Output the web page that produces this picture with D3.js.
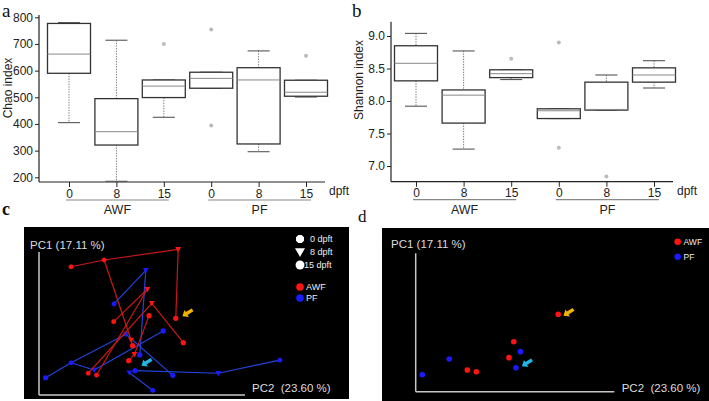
<!DOCTYPE html>
<html><head><meta charset="utf-8">
<script src="https://cdn.jsdelivr.net/npm/d3@7"></script>
<style>
body{margin:0;background:#fff}
svg{display:block;font-family:"Liberation Sans",Arial,sans-serif}
</style>
</head><body>
<svg id="chart" width="709" height="401"></svg>
<script>
// ---------- data ----------
const categories = ["AWF-0","AWF-8","AWF-15","PF-0","PF-8","PF-15"];
const dayLabels = ["0","8","15","0","8","15"];
const groupLabels = ["AWF","PF"];
const chaoTicks = [200,300,400,500,600,700,800];
const shannonTicks = [7.0,7.5,8.0,8.5,9.0];

const chaoMin = [405,185,425,534,296,501];
const chaoQ1  = [590,321,499,534,325,504];
const chaoMed = [662,371,542,571,565,519];
const chaoQ3  = [777,495,565,594,611,564];
const chaoMax = [780,714,565,594,674,564];
const chaoOut = [[],[],[700],[754,394],[],[656]];

const shanMin = [7.92,7.26,8.33,7.73,7.86,8.20];
const shanQ1  = [8.31,7.66,8.36,7.73,7.86,8.29];
const shanMed = [8.58,8.09,8.42,7.85,7.87,8.40];
const shanQ3  = [8.85,8.17,8.48,7.88,8.29,8.51];
const shanMax = [9.04,8.77,8.48,7.88,8.40,8.62];
const shanOut = [[],[],[8.65],[8.90,7.28],[6.84],[]];

// PCoA panel c: samples (PC2, PC1 scores, arbitrary units), day code 0/8/15
const awfIds  = ["A","B","C","D","E","F","G","H","I","J","K","L","M","N","O"];
const awfPC2  = [10.7,21.7,46.4,45.6,36.1,37.6,24.9,36.7,48.1,30.7,31.2,31.8,29.9,16.4,19.2];
const awfPC1  = [85.5,90.0,97.1,51.1,70.5,61.1,48.9,52.9,34.9,36.7,32.9,27.1,22.9,14.5,13.3];
const awfDay  = [0,0,8,15,8,8,0,15,15,8,15,8,15,0,0];
const awfLinks = [["A","B"],["B","C"],["C","D"],["B","J"],["J","K"],["G","E"],["E","O"],["F","N"],["F","I"],["H","L"],["L","M"]];

const pfIds  = ["P","Q","R","S","T","U","V","W","X","Y","Z","AA","AB","AC"];
const pfPC2  = [35.6,25.0,41.4,29.0,33.6,10.7,18.4,2.2,44.6,32.0,30.1,59.8,80.3,37.9];
const pfPC1  = [83.1,60.7,42.7,40.5,26.7,21.5,16.7,11.5,13.1,16.2,14.9,14.5,23.3,3.1];
const pfDay  = [8,0,15,8,15,0,8,15,15,15,8,8,0,0];
const pfLinks = [["P","Q"],["P","T"],["W","U"],["U","S"],["U","V"],["V","R"],["S","X"],["Y","AA"],["AA","AB"],["Z","AC"]];

// PCoA panel d
const dAwfPC2 = [47.5,32.7,31.1,17.2,20.2];
const dAwfPC1 = [51.6,33.3,22.7,14.5,13.3];
const dPfPC2  = [34.9,33.4,11.2,2.2];
const dPfPC1  = [26.7,16.0,21.8,11.3];

const legendDays = ["0 dpft","8 dpft","15 dpft"];
const pcLabel1 = "PC1 (17.11 %)";
const pcLabel2 = "PC2\u00a0\u00a0(23.60 %)";

// ---------- drawing ----------
const svg = d3.select("#chart");
svg.append("rect").attr("width",709).attr("height",401).attr("fill","#fff");

function boxPanel(opt){
  const g = svg.append("g");
  const y = d3.scaleLinear().domain(opt.domain).range(opt.yRange);
  const x = d3.scalePoint().domain(categories).range(opt.xRange);
  const bw = 43, cw = 22;
  g.append("line").attr("x1",opt.x0).attr("x2",opt.x0).attr("y1",opt.yTop).attr("y2",opt.yBase).attr("stroke","#222").attr("stroke-width",1.2);
  g.append("line").attr("x1",opt.x0).attr("x2",opt.xEnd).attr("y1",opt.yBase).attr("y2",opt.yBase).attr("stroke","#222").attr("stroke-width",1.2);
  const ya = g.append("g").attr("transform",`translate(${opt.x0},0)`)
    .call(d3.axisLeft(y).tickValues(opt.ticks).tickSize(4).tickPadding(2).tickFormat(opt.fmt));
  ya.select(".domain").remove();
  ya.selectAll("text").attr("font-size",12).attr("fill","#222").attr("font-family","Liberation Sans, Arial, sans-serif");
  ya.selectAll("line").attr("stroke","#222");
  const xa = g.append("g").attr("transform",`translate(0,${opt.yBase})`)
    .call(d3.axisBottom(x).tickSize(5).tickPadding(2).tickFormat((d,i)=>dayLabels[i]));
  xa.select(".domain").remove();
  xa.selectAll("text").attr("font-size",12).attr("fill","#222").attr("font-family","Liberation Sans, Arial, sans-serif");
  xa.selectAll("line").attr("stroke","#222");
  g.append("text").attr("x",opt.xEnd+4).attr("y",opt.yBase+13).attr("font-size",12).attr("fill","#222").text("dpft");
  g.append("text").attr("transform",`translate(${opt.labX},${opt.labY}) rotate(-90)`).attr("text-anchor","middle")
    .attr("font-size",12).attr("fill","#222").text(opt.label);
  groupLabels.forEach((gl,k)=>{
    const a = x(categories[k*3])-3, b = x(categories[k*3+2])+5;
    g.append("line").attr("x1",a).attr("x2",b).attr("y1",opt.yBase+18).attr("y2",opt.yBase+18).attr("stroke","#888").attr("stroke-width",1.2);
    g.append("text").attr("x",(a+b)/2).attr("y",opt.yBase+32).attr("text-anchor","middle").attr("font-size",12.5).attr("fill","#222").text(gl);
  });
  categories.forEach((c,i)=>{
    const cx = x(c);
    g.append("line").attr("x1",cx).attr("x2",cx).attr("y1",y(opt.max[i])).attr("y2",y(opt.q3[i])).attr("stroke","#777").attr("stroke-dasharray","1.3,1.3");
    g.append("line").attr("x1",cx).attr("x2",cx).attr("y1",y(opt.q1[i])).attr("y2",y(opt.min[i])).attr("stroke","#777").attr("stroke-dasharray","1.3,1.3");
    [opt.max[i],opt.min[i]].forEach(v=>{
      g.append("line").attr("x1",cx-cw/2).attr("x2",cx+cw/2).attr("y1",y(v)).attr("y2",y(v)).attr("stroke","#555").attr("stroke-width",1.1);
    });
    g.append("rect").attr("x",cx-bw/2).attr("y",y(opt.q3[i])).attr("width",bw).attr("height",Math.max(0.5,y(opt.q1[i])-y(opt.q3[i])))
      .attr("fill","#fff").attr("stroke","#333").attr("stroke-width",1.3);
    g.append("line").attr("x1",cx-bw/2).attr("x2",cx+bw/2).attr("y1",y(opt.med[i])).attr("y2",y(opt.med[i])).attr("stroke","#888").attr("stroke-width",1);
    opt.out[i].forEach(v=>{
      g.append("circle").attr("cx",cx).attr("cy",y(v)).attr("r",2).attr("fill","#bbb");
    });
  });
  svg.append("text").attr("x",opt.letX).attr("y",17).attr("font-family","Liberation Serif, Times New Roman, serif").attr("font-size",19).attr("fill","#111").text(opt.letter);
}

boxPanel({domain:[200,800], yRange:[177.3,17.3], xRange:[69,306], x0:39, xEnd:325, yTop:15, yBase:182,
  ticks:chaoTicks, fmt:d3.format("d"), label:"Chao index", labX:12, labY:88,
  min:chaoMin,q1:chaoQ1,med:chaoMed,q3:chaoQ3,max:chaoMax,out:chaoOut, letter:"a", letX:2});
boxPanel({domain:[7,9], yRange:[166,36], xRange:[416,654], x0:391, xEnd:673, yTop:21.7, yBase:181.7,
  ticks:shannonTicks, fmt:d3.format(".1f"), label:"Shannon index", labX:363, labY:80,
  min:shanMin,q1:shanQ1,med:shanMed,q3:shanQ3,max:shanMax,out:shanOut, letter:"b", letX:352});

// ---------- PCoA helpers ----------
const octagon = {draw(ctx,size){const r=Math.sqrt(size)*0.6;for(let k=0;k<8;k++){const a=Math.PI/8+k*Math.PI/4;const px=r*Math.cos(a),py=r*Math.sin(a);k?ctx.lineTo(px,py):ctx.moveTo(px,py);}ctx.closePath();}};
const triDown = {draw(ctx,size){const s=Math.sqrt(size)*1.25;ctx.moveTo(-s/2,-s*0.38);ctx.lineTo(s/2,-s*0.38);ctx.lineTo(0,s*0.5);ctx.closePath();}};
function marker(g,day,x,y,color,scale){
  scale = scale||1;
  if(day===0) g.append("path").attr("d",d3.symbol(octagon,18*scale*scale)()).attr("transform",`translate(${x},${y})`).attr("fill",color);
  else if(day===8) g.append("path").attr("d",d3.symbol(triDown,22*scale*scale)()).attr("transform",`translate(${x},${y})`).attr("fill",color);
  else g.append("circle").attr("cx",x).attr("cy",y).attr("r",2.6*scale).attr("fill",color);
}
function arrow(g,cx,cy,color){
  const pts=[[-6,0],[-1,-4.2],[-1,-1.7],[6,-1.7],[6,1.7],[-1,1.7],[-1,4.2]];
  g.append("polygon").attr("points",pts.map(p=>p.join(",")).join(" ")).attr("transform",`translate(${cx},${cy}) rotate(-32)`).attr("fill",color);
}
function frame(g,x0,x1,y0,y1){
  g.append("line").attr("x1",x0).attr("x2",x0).attr("y1",y0).attr("y2",y1).attr("stroke","#c8c8c8").attr("stroke-width",1.5);
  g.append("line").attr("x1",x0).attr("x2",x1).attr("y1",y1).attr("y2",y1).attr("stroke","#c8c8c8").attr("stroke-width",1.5);
}
const RED="#ff1414", REDL="#c81818", BLUE="#1a1aff", BLUEL="#2343dc", ORANGE="#f2b300", CYAN="#20b4e8";

// ---------- panel c ----------
svg.append("text").attr("x",2).attr("y",215).attr("font-family","Liberation Serif, Times New Roman, serif").attr("font-weight","bold").attr("font-size",18).attr("fill","#111").text("c");
const gc = svg.append("g");
gc.append("rect").attr("x",24).attr("y",227).attr("width",325).attr("height",172).attr("fill","#000");
frame(gc,39,245,252,395);
gc.append("text").attr("x",30).attr("y",249).attr("font-size",11.5).attr("fill","#ddd").text(pcLabel1);
gc.append("text").attr("x",252).attr("y",392).attr("font-size",11.5).attr("fill","#ddd").text(pcLabel2);
const xC = d3.scaleLinear().domain([0,100]).range([39,339]);
const yC = d3.scaleLinear().domain([0,100]).range([395,245]);
function drawSet(ids,px,py,days,links,lineCol,ptCol){
  const idx = Object.fromEntries(ids.map((d,i)=>[d,i]));
  links.forEach(([a,b])=>{
    gc.append("line").attr("x1",xC(px[idx[a]])).attr("y1",yC(py[idx[a]])).attr("x2",xC(px[idx[b]])).attr("y2",yC(py[idx[b]]))
      .attr("stroke",lineCol).attr("stroke-width",1.2);
  });
  ids.forEach((d,i)=>marker(gc,days[i],xC(px[i]),yC(py[i]),ptCol));
}
drawSet(pfIds,pfPC2,pfPC1,pfDay,pfLinks,BLUEL,BLUE);
drawSet(awfIds,awfPC2,awfPC1,awfDay,awfLinks,REDL,RED);
arrow(gc,187.5,313,ORANGE);
arrow(gc,146.5,362.5,CYAN);
[0,8,15].forEach((d,i)=>{
  const ly=[239,252,265][i];
  marker(gc,d,300,ly,"#fff",1.7);
  gc.append("text").attr("x",i===2?304:310).attr("y",ly+3).attr("font-size",9).attr("fill","#eee").text(legendDays[i]);
});
[[RED,"AWF",287],[BLUE,"PF",298]].forEach(([c,t,ly])=>{
  gc.append("circle").attr("cx",300).attr("cy",ly).attr("r",3.8).attr("fill",c);
  gc.append("text").attr("x",306).attr("y",ly+3).attr("font-size",9).attr("fill","#eee").text(t);
});

// ---------- panel d ----------
svg.append("text").attr("x",358).attr("y",222).attr("font-family","Liberation Serif, Times New Roman, serif").attr("font-size",17).attr("fill","#111").text("d");
const gd = svg.append("g");
gd.append("rect").attr("x",382).attr("y",228).attr("width",327).attr("height",173).attr("fill","#000");
frame(gd,415.7,614.3,253.3,391.7);
gd.append("text").attr("x",391).attr("y",248.3).attr("font-size",11.5).attr("fill","#ddd").text(pcLabel1);
gd.append("text").attr("x",621.7).attr("y",391.7).attr("font-size",11.5).attr("fill","#ddd").text(pcLabel2);
const xD = d3.scaleLinear().domain([0,100]).range([415.7,715.7]);
const yD = d3.scaleLinear().domain([0,100]).range([391.7,241.7]);
dAwfPC2.forEach((v,i)=>gd.append("circle").attr("cx",xD(v)).attr("cy",yD(dAwfPC1[i])).attr("r",2.8).attr("fill",RED));
dPfPC2.forEach((v,i)=>gd.append("circle").attr("cx",xD(v)).attr("cy",yD(dPfPC1[i])).attr("r",2.8).attr("fill",BLUE));
arrow(gd,568.5,312.5,ORANGE);
arrow(gd,527,363,CYAN);
[[RED,"AWF",241.7],[BLUE,"PF",256.7]].forEach(([c,t,ly])=>{
  gd.append("circle").attr("cx",677.7).attr("cy",ly).attr("r",3.3).attr("fill",c);
  gd.append("text").attr("x",683.5).attr("y",ly+3).attr("font-size",8.5).attr("fill","#eee").text(t);
});
</script>
</body></html>
